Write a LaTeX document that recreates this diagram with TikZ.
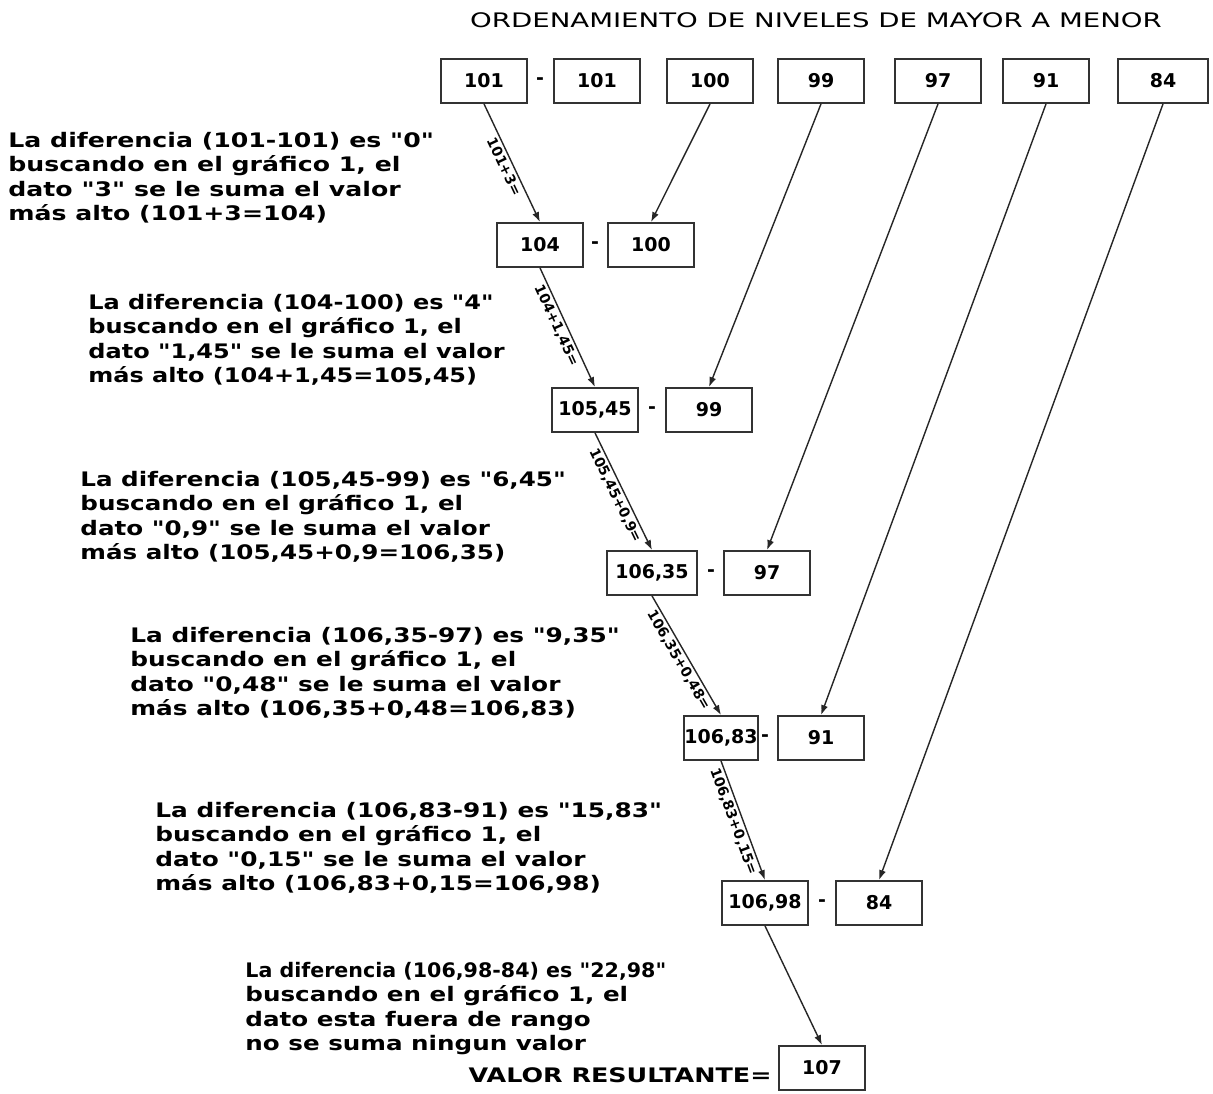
\documentclass[tikz,border=0pt]{standalone}
\usepackage{fontspec}
\setmainfont{DejaVu Sans}[Ligatures=TeXOff]
\usetikzlibrary{arrows.meta}
\newcommand{\wide}[2]{\scalebox{#1}[1]{\begin{tabular}{@{}l@{}}#2\end{tabular}}}
\begin{document}
\begin{tikzpicture}[x=0.5pt,y=-0.5pt,
  box/.style={draw=black!80, line width=0.9pt, minimum width=43pt, minimum height=22pt, inner sep=0pt, font=\bfseries\fontsize{9.5}{11}\selectfont},
  sepmark/.style={inner sep=0pt, font=\bfseries\fontsize{9.5}{11}\selectfont},
  note/.style={align=left, anchor=north west, inner sep=0pt, font=\bfseries\fontsize{10}{12.2}\selectfont},
  arr/.style={draw=black!85, line width=0.7pt, -{Latex[length=5pt,width=3.5pt]}},
  lab/.style={sloped, below, font=\bfseries\fontsize{7}{8}\selectfont, inner sep=1.2pt}
]
\useasboundingbox[fill=white] (0,0) rectangle (1213,1093);

\node[font=\fontsize{10}{12}\selectfont, inner sep=0pt] (title) at (816,20) {\scalebox{1.38}[1]{ORDENAMIENTO DE NIVELES DE MAYOR A MENOR}};

% top row
\node[box] (t1) at (484,81) {101};
\node[sepmark] (s0) at (540,81) {-};
\node[box] (t2) at (597,81) {101};
\node[box] (t3) at (710,81) {100};
\node[box] (t4) at (821,81) {99};
\node[box] (t5) at (938,81) {97};
\node[box] (t6) at (1046,81) {91};
\node[box, minimum width=45pt] (t7) at (1163,81) {84};

% chain rows
\node[box] (a2) at (540,245) {104};
\node[sepmark] (s2) at (595,245) {-};
\node[box] (b2) at (651,245) {100};

\node[box] (a3) at (595,410) {105,45};
\node[sepmark] (s3) at (652,410) {-};
\node[box] (b3) at (709,410) {99};

\node[box, minimum width=45pt] (a4) at (652,573) {106,35};
\node[sepmark] (s4) at (711,573) {-};
\node[box] (b4) at (767,573) {97};

\node[box, minimum width=32pt] (a5) at (721,738) {106,83};
\node[sepmark] (s5) at (765,738) {-};
\node[box] (b5) at (821,738) {91};

\node[box] (a6) at (765,903) {106,98};
\node[sepmark] (s6) at (822,903) {-};
\node[box] (b6) at (879,903) {84};

\node[box] (r7) at (822,1068) {107};
\node[anchor=east, inner sep=0pt, font=\bfseries\fontsize{10}{12}\selectfont] (vr) at (772,1075) {\scalebox{1.27}[1]{VALOR RESULTANTE=}};

% chain arrows
\draw[arr] (t1.south) -- node[lab, pos=0.5] {101+3=} (a2.north);
\draw[arr] (a2.south) -- node[lab, pos=0.45] {104+1,45=} (a3.north);
\draw[arr] (a3.south) -- node[lab, pos=0.5] {105,45+0,9=} (a4.north);
\draw[arr] (a4.south) -- node[lab, pos=0.5] {106,35+0,48=} (a5.north);
\draw[arr] (a5.south) -- node[lab, pos=0.48] {106,83+0,15=} (a6.north);
\draw[arr] (a6.south) -- (r7.north);

% right arrows
\draw[arr] (t3.south) -- (b2.north);
\draw[arr] (t4.south) -- (b3.north);
\draw[arr] (t5.south) -- (b4.north);
\draw[arr] (t6.south) -- (b5.north);
\draw[arr] (t7.south) -- (b6.north);

% notes
\node[note] (n1) at (8,130) {\wide{1.26}{La diferencia (101-101) es "0"\\buscando en el gráfico 1, el\\dato "3" se le suma el valor\\más alto (101+3=104)}};
\node[note] (n2) at (88,292) {\wide{1.2}{La diferencia (104-100) es "4"\\buscando en el gráfico 1, el\\dato "1,45" se le suma el valor\\más alto (104+1,45=105,45)}};
\node[note] (n3) at (80,469) {\wide{1.23}{La diferencia (105,45-99) es "6,45"\\buscando en el gráfico 1, el\\dato "0,9" se le suma el valor\\más alto (105,45+0,9=106,35)}};
\node[note] (n4) at (130,625) {\wide{1.24}{La diferencia (106,35-97) es "9,35"\\buscando en el gráfico 1, el\\dato "0,48" se le suma el valor\\más alto (106,35+0,48=106,83)}};
\node[note] (n5) at (155,800) {\wide{1.24}{La diferencia (106,83-91) es "15,83"\\buscando en el gráfico 1, el\\dato "0,15" se le suma el valor\\más alto (106,83+0,15=106,98)}};
\node[note] (n6) at (245,960) {\begin{tabular}{@{}l@{}}\scalebox{1.03}[1]{La diferencia (106,98-84) es "22,98"}\\\scalebox{1.23}[1]{buscando en el gráfico 1, el}\\\scalebox{1.23}[1]{dato esta fuera de rango}\\\scalebox{1.23}[1]{no se suma ningun valor}\end{tabular}};
\end{tikzpicture}
\end{document}
